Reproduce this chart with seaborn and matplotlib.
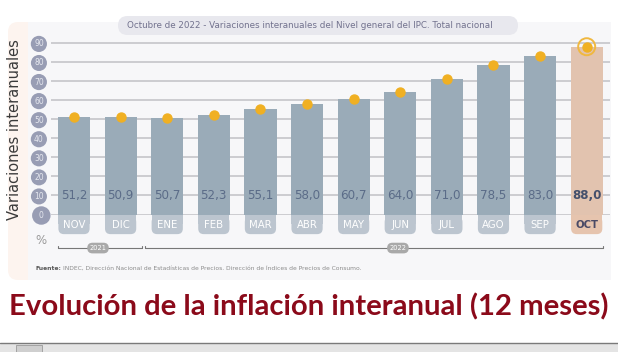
import matplotlib
matplotlib.use("Agg")
import matplotlib.pyplot as plt
from matplotlib.patches import FancyBboxPatch, Rectangle
import seaborn as sns
import pandas as pd

meses = ["NOV", "DIC", "ENE", "FEB", "MAR", "ABR", "MAY", "JUN", "JUL", "AGO", "SEP", "OCT"]
valores = [51.2, 50.9, 50.7, 52.3, 55.1, 58.0, 60.7, 64.0, 71.0, 78.5, 83.0, 88.0]
anios = ["2021", "2022"]
yticks = [0, 10, 20, 30, 40, 50, 60, 70, 80, 90]

BAR = "#9aabb8"
BAR_HI = "#e2c3af"
DOT = "#f0b023"

sns.set_theme(style="white")
plt.rcParams["font.family"] = ["DejaVu Sans"]

fig = plt.figure(figsize=(6.18, 3.52), dpi=100)

# background / decoration layer in pixel coordinates
bg = fig.add_axes([0, 0, 1, 1], zorder=0)
bg.set_xlim(0, 618)
bg.set_ylim(352, 0)
bg.axis("off")
bg.add_patch(FancyBboxPatch((8, 22), 603, 258, boxstyle="round,pad=0,rounding_size=10",
                            fc="#fdf4ef", ec="none"))
bg.add_patch(Rectangle((28, 22), 583, 258, fc="#f7f7f9", ec="none"))
bg.add_patch(FancyBboxPatch((118, 16), 400, 19, boxstyle="round,pad=0,rounding_size=9.5",
                            fc="#e8e8ee", ec="none"))
bg.text(127, 25.5, "Octubre de 2022 - Variaciones interanuales del Nivel general del IPC. Total nacional",
        ha="left", va="center", fontsize=6.3, color="#72728e")
bg.text(15, 130, "Variaciones interanuales", rotation=90, ha="center", va="center",
        fontsize=10.5, color="#3a3a3a")
bg.text(41, 241, "%", ha="center", va="center", fontsize=8.5, color="#9a9a9a")
t1 = bg.text(35, 268.5, "Fuente:", ha="left", va="center", fontsize=4.3, color="#555555",
             fontweight="bold")
fig.canvas.draw()
r = fig.canvas.get_renderer()
w1 = t1.get_window_extent(r).width
bg.text(35 + w1 + 2, 268.5,
        "INDEC, Dirección Nacional de Estadísticas de Precios. Dirección de Índices de Precios de Consumo.",
        ha="left", va="center", fontsize=4.3, color="#8a8a8a")

title = bg.text(309, 307, "Evolución de la inflación interanual (12 meses)", ha="center",
                va="center", fontsize=19, color="#8b0a1a", fontweight="bold",
                family=["Lato", "DejaVu Sans"])
fig.canvas.draw()
tw = title.get_window_extent(r).width
title.set_fontsize(19 * 598 / tw)

bg.add_patch(Rectangle((0, 343), 618, 9, fc="#e4e4e4", ec="none"))
bg.plot([0, 618], [343, 343], color="#7a7a7a", lw=1)
bg.add_patch(Rectangle((16, 345), 26, 7, fc="#cfcfcf", ec="#9a9a9a", lw=0.6))

# main chart
ax = fig.add_axes([50.7 / 618, (352 - 214.5) / 352, (610 - 50.7) / 618, 177.3 / 352], zorder=1)
ax.set_facecolor("none")
df = pd.DataFrame({"mes": meses, "valor": valores})
colors = {m: (BAR_HI if m == "OCT" else BAR) for m in meses}
sns.barplot(data=df, x="mes", y="valor", hue="mes", palette=colors, width=0.69,
            saturation=1, legend=False, ax=ax, zorder=2, linewidth=0, edgecolor="none")
ax.set_xlim(-0.5, len(meses) - 0.5)
ax.set_ylim(0, 93)
ax.set_axisbelow(True)
ax.yaxis.grid(True, color="#c9c9cd", lw=1.3)
ax.xaxis.grid(False)
for s in ax.spines.values():
    s.set_visible(False)
ax.set_xlabel("")
ax.set_ylabel("")
ax.set_xticks([])
ax.set_yticks(yticks)
ax.set_yticklabels([str(v) for v in yticks])
ax.tick_params(axis="y", length=0, pad=5, labelsize=5.5, labelcolor="#e6e8ef")
for lbl, v in zip(ax.get_yticklabels(), yticks):
    p = 0.42 if v >= 10 else 0.62
    lbl.set_bbox(dict(boxstyle=f"circle,pad={p}", fc="#989db4", ec="none"))

ax.scatter(range(len(meses)), valores, s=42, color=DOT, zorder=5, clip_on=False)
ax.scatter([len(meses) - 1], [valores[-1]], s=150, facecolor="none", edgecolor="#f0b840",
           lw=1.4, zorder=5, clip_on=False)

aspect = (46.6) / (1.906)
for i, (m, v) in enumerate(zip(meses, valores)):
    hi = m == "OCT"
    ax.text(i, 10, f"{v:.1f}".replace(".", ","), ha="center", va="center",
            fontsize=8.6, color="#45506c" if hi else "#5b6c88",
            fontweight="bold" if hi else "normal", zorder=4)
    fc = "#e6c4ae" if hi else "#bcc5cf"
    ax.add_patch(FancyBboxPatch((i - 0.335, -10.3), 0.67, 9.3,
                                boxstyle="round,pad=0,rounding_size=0.12",
                                mutation_aspect=aspect, fc=fc, ec="none", clip_on=False, zorder=3))
    ax.add_patch(Rectangle((i - 0.335, -5), 0.67, 4.5, fc=fc, ec="none", clip_on=False, zorder=3))
    ax.text(i, -5.6, m, ha="center", va="center", fontsize=7.3,
            color="#4a4a66" if hi else "white", fontweight="bold" if hi else "normal",
            zorder=4, clip_on=False)

# year brackets
yb = -17.6
for (x0, x1, xl), lab in zip([(-0.34, 1.46, 0.515), (1.52, 11.35, 6.95)], anios):
    ax.plot([x0, x1], [yb, yb], color="#777777", lw=0.8, clip_on=False, zorder=3)
    for xe in (x0, x1):
        ax.plot([xe, xe], [yb, yb + 1.2], color="#777777", lw=0.8, clip_on=False, zorder=3)
    ax.text(xl, yb, lab, ha="center", va="center", fontsize=4.8, color="white", zorder=4,
            bbox=dict(boxstyle="round,pad=0.35,rounding_size=0.8", fc="#a9a9a9", ec="none"),
            clip_on=False)

fig.savefig("out.png", dpi=100)
